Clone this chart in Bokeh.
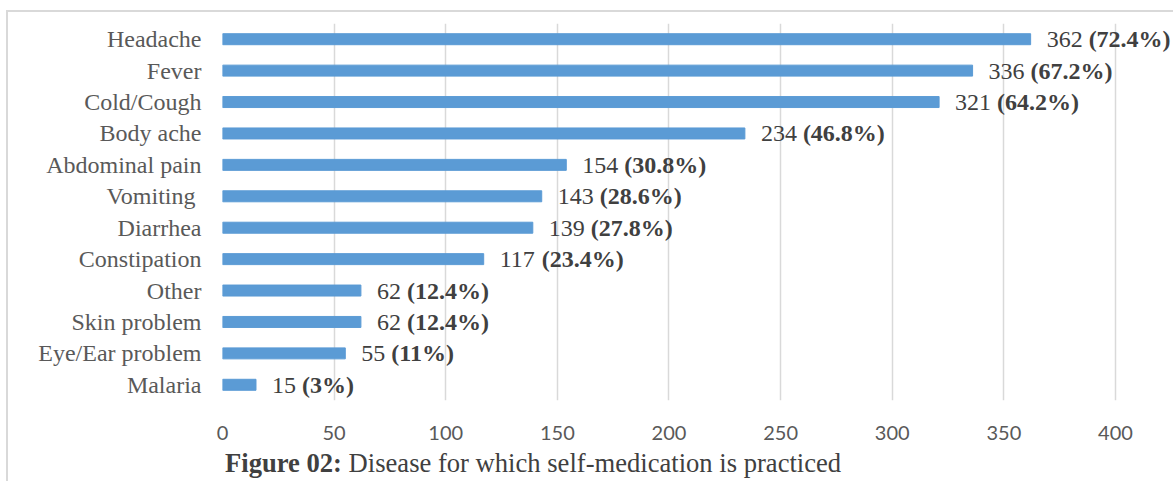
from bokeh.plotting import figure
from bokeh.models import ColumnDataSource, FactorRange, Range1d, FixedTicker, Div
from bokeh.layouts import column
from bokeh.core.properties import value
from bokeh.embed import file_html
from bokeh.resources import INLINE

categories = ["Headache", "Fever", "Cold/Cough", "Body ache", "Abdominal pain", "Vomiting ",
              "Diarrhea", "Constipation", "Other", "Skin problem", "Eye/Ear problem", "Malaria"]
counts = [362, 336, 321, 234, 154, 143, 139, 117, 62, 62, 55, 15]
percents = ["72.4%", "67.2%", "64.2%", "46.8%", "30.8%", "28.6%", "27.8%", "23.4%",
            "12.4%", "12.4%", "11%", "3%"]
x_ticks = [0, 50, 100, 150, 200, 250, 300, 350, 400]
caption_bold = "Figure 02:"
caption_rest = "Disease for which self-medication is practiced"

LABEL_FS = 24
GAP = 16
reg_text = [f"{c} " for c in counts]
bold_text = [f"({p})" for p in percents]
reg_off = [GAP] * len(counts)
bold_off = [GAP + (len(str(c)) * 0.5 + 0.25) * LABEL_FS for c in counts]

src = ColumnDataSource(dict(cat=categories, val=counts, reg=reg_text, bold=bold_text,
                            roff=reg_off, boff=bold_off))

W, H = 1165, 433
p = figure(width=W, height=H, output_backend="svg", toolbar_location=None,
           y_range=FactorRange(factors=list(reversed(categories))),
           x_range=Range1d(0, 426),
           min_border_left=214, min_border_right=0, min_border_top=11, min_border_bottom=45)
p.outline_line_color = None
p.background_fill_color = "white"
p.border_fill_color = "white"

p.hbar(y="cat", right="val", left=0, height=0.35, source=src, color="#5B9BD5")

p.text(x="val", y="cat", text="reg", x_offset="roff", source=src,
       text_font=value("Liberation Serif"), text_font_size=f"{LABEL_FS}px",
       text_color="#404040", text_baseline="middle", text_align="left")
p.text(x="val", y="cat", text="bold", x_offset="boff", source=src,
       text_font=value("Liberation Serif"), text_font_size=f"{LABEL_FS}px",
       text_font_style="bold", text_color="#404040", text_baseline="middle", text_align="left")

p.xaxis.ticker = FixedTicker(ticks=x_ticks)
p.xgrid.ticker = FixedTicker(ticks=x_ticks)
p.xgrid.grid_line_color = "#d9d9d9"
p.xgrid.grid_line_width = 1.5
p.ygrid.grid_line_color = None

for ax in (p.xaxis, p.yaxis):
    ax.axis_line_color = None
    ax.major_tick_line_color = None
    ax.minor_tick_line_color = None

p.xaxis.major_label_text_font = "Lato"
p.xaxis.major_label_text_font_size = "20px"
p.xaxis.major_label_text_color = "#595959"
p.xaxis.major_label_standoff = 19

p.yaxis.major_label_text_font = "Liberation Serif"
p.yaxis.major_label_text_font_size = f"{LABEL_FS}px"
p.yaxis.major_label_text_color = "#595959"
p.yaxis.major_label_standoff = 15

caption = Div(
    text=f'<span style="font-weight:bold">{caption_bold}</span> {caption_rest}',
    width=W, height=36,
    styles={"font-family": "'Liberation Serif'", "font-size": "26.6px", "color": "#404040",
            "padding-left": "212px", "padding-top": "1px", "line-height": "24px",
            "white-space": "nowrap", "box-sizing": "border-box"})

layout = column(p, caption, margin=(10, 0, 0, 6), spacing=0,
                styles={"border-top": "2px solid #d9d9d9", "border-left": "2px solid #d9d9d9",
                        "background": "white"})

open("out.html", "w").write(file_html(layout, INLINE))
